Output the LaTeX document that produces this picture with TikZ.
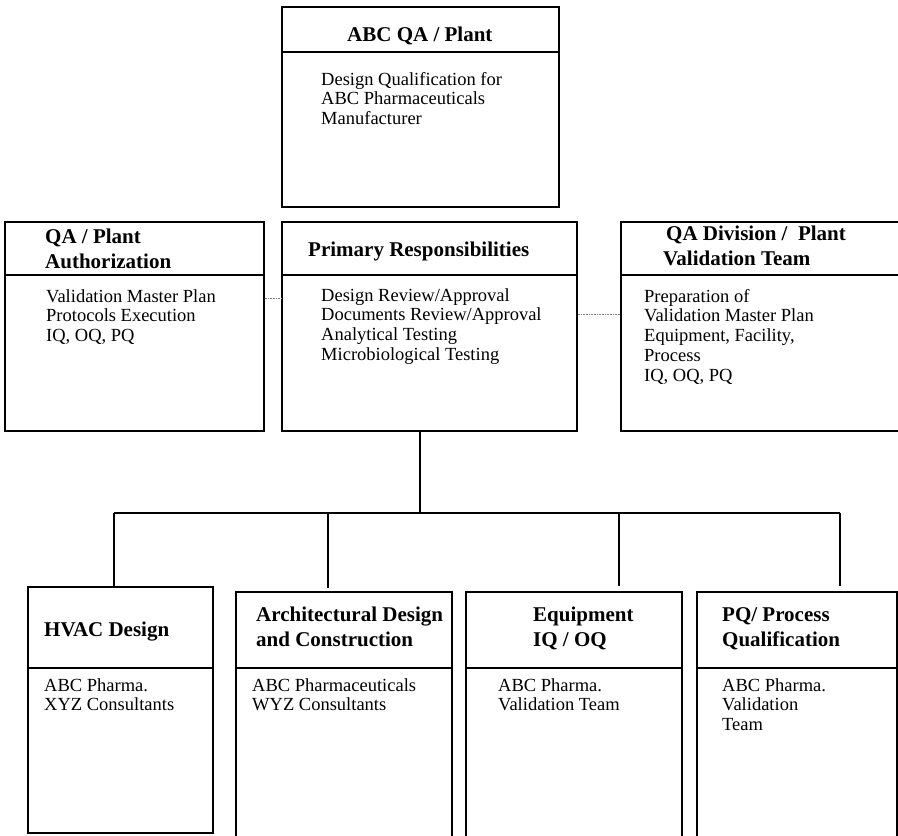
\documentclass[tikz,border=0pt]{standalone}
\usepackage{fontspec}
\setmainfont{Liberation Serif}
\begin{document}
\begin{tikzpicture}[x=1pt,y=-1pt,
  box/.style={draw, line width=1.4pt, rectangle, inner sep=0pt},
  link/.style={line width=1.4pt},
  dotlink/.style={gray, densely dotted, line width=0.6pt},
  head/.style={anchor=north west, inner sep=0pt, align=left, yshift=17pt,
    font=\fontsize{21}{25}\selectfont\bfseries,
    execute at begin node={\rule{0pt}{17pt}}},
  body/.style={anchor=north west, inner sep=0pt, align=left, yshift=15pt,
    font=\fontsize{18.5}{19.7}\selectfont,
    execute at begin node={\rule{0pt}{15pt}}},
]
\useasboundingbox (0,0) rectangle (898,836);
\clip (0,0) rectangle (898,836);

% boxes
\node[box, minimum width=277pt, minimum height=200pt] (top)   at (420.5,107) {};
\node[box, minimum width=259pt, minimum height=209pt] (auth)  at (134.5,326.5) {};
\node[box, minimum width=295pt, minimum height=209pt] (prim)  at (429.5,326.5) {};
\node[box, minimum width=290pt, minimum height=209pt] (valid) at (766,326.5) {};
\node[box, minimum width=185pt, minimum height=246pt] (hvac)  at (120.5,710) {};
\node[box, minimum width=216pt, minimum height=258pt] (arch)  at (344,721) {};
\node[box, minimum width=216pt, minimum height=258pt] (equip) at (574,721) {};
\node[box, minimum width=200pt, minimum height=258pt] (pq)    at (797,721) {};

% header dividers
\draw[link] (top.west |- 0,52) -- (top.east |- 0,52);
\foreach \b in {auth,prim,valid}
  \draw[link] (\b.west |- 0,275) -- (\b.east |- 0,275);
\foreach \b in {hvac,arch,equip,pq}
  \draw[link] (\b.west |- 0,668) -- (\b.east |- 0,668);

% texts
\node[head] (topH) at (347,41) {ABC QA / Plant};
\node[body] (topB) at (321,87) {Design Qualification for\\ABC Pharmaceuticals\\Manufacturer};

\node[head] (authH) at (45,245.7) {QA / Plant\\Authorization};
\node[body] (authB) at (46,304) {Validation Master Plan\\Protocols Execution\\IQ, OQ, PQ};

\node[head] (primH) at (308,256) {Primary Responsibilities};
\node[body] (primB) at (321,303) {Design Review/Approval\\Documents Review/Approval\\Analytical Testing\\Microbiological Testing};

\node[head] (validH) at (663,243) {\hspace*{3pt}QA Division /\ \ Plant\\Validation Team};
\node[body] (validB) at (644,304) {Preparation of\\Validation Master Plan\\Equipment, Facility,\\Process\\IQ, OQ, PQ};

\node[head] (hvacH) at (44,636) {HVAC Design};
\node[body] (hvacB) at (44,693) {ABC Pharma.\\XYZ Consultants};

\node[head] (archH) at (256,624) {Architectural Design\\and Construction};
\node[body] (archB) at (252,693) {ABC Pharmaceuticals\\WYZ Consultants};

\node[head] (equipH) at (533,624) {Equipment\\IQ / OQ};
\node[body] (equipB) at (498,693) {ABC Pharma.\\Validation Team};

\node[head] (pqH) at (722,624) {PQ/ Process\\Qualification};
\node[body] (pqB) at (722,693) {ABC Pharma.\\Validation\\Team};

% dotted side links
\draw[dotlink] (auth.east |- 0,298) -- (prim.west |- 0,298);
\draw[dotlink] (prim.east |- 0,314) -- (valid.west |- 0,314);

% tree connectors
\coordinate (hub) at (420,513);
\coordinate (d1) at (114,513);
\coordinate (d2) at (328,513);
\coordinate (d3) at (619,513);
\coordinate (d4) at (840,513);
\coordinate (e2) at (328,588);
\coordinate (e3) at (619,586);
\coordinate (e4) at (840,586);
\draw[link] (prim.south -| hub) -- (hub);
\draw[link] (d1) -- (d4);
\draw[link] (d1) -- (d1 |- hvac.north);
\draw[link] (d2) -- (e2);
\draw[link] (d3) -- (e3);
\draw[link] (d4) -- (e4);
\end{tikzpicture}
\end{document}
